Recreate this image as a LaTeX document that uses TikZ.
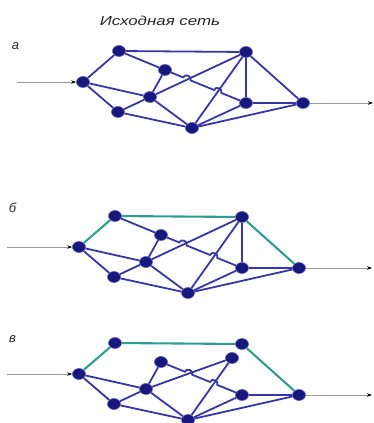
\documentclass[tikz,border=0pt]{standalone}
\usepackage{fontspec}
\newfontfamily\lsans{Liberation Sans}
\usetikzlibrary{arrows.meta,calc,shapes.geometric}
\definecolor{edgeblue}{HTML}{3636A8}
\definecolor{nodeblue}{HTML}{17177C}
\definecolor{tealc}{HTML}{2E9E8E}
\newcommand\netnodes[1]{%
  \node[nd] (#1A) at (79,247) {};
  \node[nd] (#1B) at (115,216) {};
  \node[nd] (#1C) at (161,235) {};
  \node[nd] (#1D) at (146,262) {};
  \node[nd] (#1E) at (114,277) {};
  \node[nd] (#1F) at (188,293) {};
  \node[nd] (#1G) at (242,217) {};
  \node[nd] (#1H) at (242,268) {};
  \node[nd] (#1I) at (299,268) {};
}
\newcommand\commonedges[1]{%
  \draw[ed] (#1A) -- (#1E);
  \draw[ed] (#1A) -- (#1D);
  \draw[ed] (#1E) -- (#1D);
  \draw[ed] (#1E) -- (#1F);
  \draw[ed] (#1D) -- (#1F);
  \draw[ed] (#1C) -- (#1D);
  \draw[ed] (#1F) -- (#1H);
  \draw[ed] (#1F) -- (#1I);
  \draw[ed] (#1H) -- (#1I);
}
% hop line from #1 to #2 with hops at fractions #3 and #4
\newcommand\hopline[4]{%
  \draw[ed] (#1) -- ($(#1)!{#3-0.045}!(#2)$)
    to[bend left=90,looseness=1.5] ($(#1)!{#3+0.045}!(#2)$)
    -- ($(#1)!{#4-0.045}!(#2)$)
    to[bend left=90,looseness=1.5] ($(#1)!{#4+0.045}!(#2)$)
    -- (#2);
}
\begin{document}
\begin{tikzpicture}[x=1pt,y=-1pt,
  nd/.style={ellipse,minimum width=13pt,minimum height=11pt,inner sep=0pt,
    fill=nodeblue,draw=edgeblue!80,line width=0.6pt},
  ed/.style={edgeblue,line width=1.8pt},
  tl/.style={tealc,line width=2.1pt},
  io/.style={gray!80,line width=0.7pt,-{Stealth[black,length=5pt,width=3.5pt]}},
  lab/.style={font=\lsans\itshape\fontsize{13}{15}\selectfont,inner sep=0pt,text=black!85}
]
\useasboundingbox (0,0) rectangle (374,423);
\node[lab] (title) at (160,21) {\scalebox{1.3}[1]{Исходная сеть}};
\node[lab] (la) at (15.5,46.5) {а};
\node[lab] (lb) at (12.5,207.5) {б};
\node[lab] (lc) at (12.5,339) {в};
% panel a
\begin{scope}[shift={(4,-165)}]
  \netnodes{a}
  \commonedges{a}
  \draw[ed] (aA) -- (aB);
  \draw[ed] (aB) -- (aG);
  \draw[ed] (aG) -- (aI);
  \draw[ed] (aB) -- (aC);
  \draw[ed] (aD) -- (aG);
  \draw[ed] (aF) -- (aG);
  \draw[ed] (aG) -- (aH);
  \hopline{aC}{aH}{0.27}{0.65}
  \coordinate (ain) at (13,247);
  \coordinate (aout) at (369,268);
  \draw[io] (ain) -- (aA);
  \draw[io] (aI) -- (aout);
\end{scope}
% panel b
\begin{scope}
  \netnodes{b}
  \commonedges{b}
  \draw[tl] (bA) -- (bB);
  \draw[tl] (bB) -- (bG);
  \draw[tl] (bG) -- (bI);
  \draw[ed] (bB) -- (bC);
  \draw[ed] (bD) -- (bG);
  \draw[ed] (bF) -- (bG);
  \draw[ed] (bG) -- (bH);
  \hopline{bC}{bH}{0.27}{0.65}
  \coordinate (bin) at (7,247);
  \coordinate (bout) at (372,268);
  \draw[io] (bin) -- (bA);
  \draw[io] (bI) -- (bout);
\end{scope}
% panel c
\begin{scope}[shift={(0,127)}]
  \netnodes{c}
  \node[nd] (cJ) at (232,231) {};
  \commonedges{c}
  \draw[tl] (cA) -- (cB);
  \draw[tl] (cB) -- (cG);
  \draw[tl] (cG) -- (cI);
  \draw[ed] (cD) -- (cJ);
  \draw[ed] (cF) -- (cJ);
  \hopline{cC}{cH}{0.34}{0.65}
  \coordinate (cin) at (7,247);
  \coordinate (cout) at (372,268);
  \draw[io] (cin) -- (cA);
  \draw[io] (cI) -- (cout);
\end{scope}
\end{tikzpicture}
\end{document}
